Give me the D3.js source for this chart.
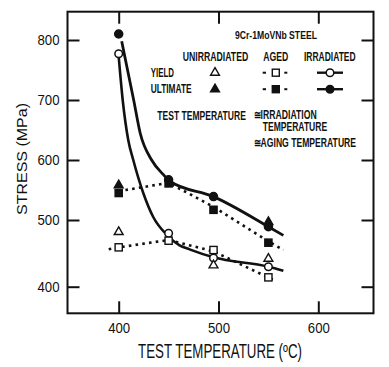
<!DOCTYPE html>
<html><head><meta charset="utf-8">
<script src="https://cdn.jsdelivr.net/npm/d3@7"></script>
<style>
html,body{margin:0;padding:0;background:#fff;}
text{font-family:"Liberation Sans",Arial,Helvetica,sans-serif;fill:#111;}
</style></head>
<body><svg id="c" width="389" height="367"></svg>
<script>
// ---- data ----
const temps = [400, 450, 495, 550];
const unirrYield = [482, null, 432, 442];
const unirrUlt   = [558, null, null, 497];
const agedYield  = [459, 469, 455, 414];
const agedUlt    = [545, 561, 517, 466];
const irrYield   = [777, 480, 443, 430];
const irrUlt     = [810, 567, 539, 490];
// fitted curves drawn through the data (temperature, MPa)
const irrUltFit   = [[403,798],[415,700],[421.5,645],[433,600],[444.5,576],[451,565],[495,539],[550,490],[565,477]];
const irrYieldFit = [[400,772],[404,700],[409.6,633],[414.6,600],[424.6,545],[434.6,505],[448,478],[461,462],[471,456],[495,444],[550,430],[565,424]];
const agedUltFit  = [[400,548],[450,562],[495,522],[550,468],[565,455]];
const agedYieldFit= [[390,456],[400,459],[450,470],[495,453],[558,408]];
const xTicks = [400, 500, 600];
const yTicks = [400, 500, 600, 700, 800];
const xTitle = "TEST TEMPERATURE (ºC)";
const yTitle = "STRESS (MPa)";
const legendTitle = "9Cr-1MoVNb STEEL";
const legendCols = ["UNIRRADIATED", "AGED", "IRRADIATED"];
const legendRows = ["YIELD", "ULTIMATE"];
const noteLines = ["TEST TEMPERATURE", "≅IRRADIATION", "TEMPERATURE", "≅AGING TEMPERATURE"];

// ---- layout ----
const svg = d3.select("#c");
const L = 67.5, R = 373.5, T = 11.7, B = 313.3;
const x = d3.scaleLinear().domain([400, 600]).range([118.7, 318.3]);
const y = d3.scaleLinear().domain([400, 500, 800]).range([286.7, 220, 40]);

function squeeze(sel, target){
  sel.each(function(){
    const t = d3.select(this);
    const w = this.getComputedTextLength();
    const ax = +t.attr("x") || 0;
    const s = target / w;
    const prev = t.attr("transform") || "";
    t.attr("transform", `${prev} translate(${ax},0) scale(${s},1) translate(${-ax},0)`);
  });
}

function styleAxis(g){
  g.select(".domain").remove();
  g.selectAll("line").attr("stroke","#111").attr("stroke-width",2);
  g.selectAll("text").style("font-family",'"Liberation Sans",Arial,sans-serif').style("font-size","15px").attr("fill","#111");
  squeeze(g.selectAll("text"), 22);
}
svg.append("g").attr("transform",`translate(${L},0)`)
  .call(d3.axisLeft(y).tickValues(yTicks).tickSize(-12).tickPadding(8)).call(styleAxis);
svg.append("g").attr("transform",`translate(${R},0)`)
  .call(d3.axisRight(y).tickValues(yTicks).tickSize(-12).tickFormat("")).call(styleAxis);
svg.append("g").attr("transform",`translate(0,${B})`)
  .call(d3.axisBottom(x).tickValues(xTicks).tickSize(-12).tickPadding(9)).call(styleAxis);
svg.append("g").attr("transform",`translate(0,${T})`)
  .call(d3.axisTop(x).tickValues(xTicks).tickSize(-12).tickFormat("")).call(styleAxis);

svg.append("rect").attr("x",L).attr("y",T).attr("width",R-L).attr("height",B-T)
  .attr("fill","none").attr("stroke","#111").attr("stroke-width",2);

// titles
const xt = svg.append("text").attr("x",220).attr("y",358).attr("text-anchor","middle")
  .style("font-size","20px").text(xTitle);
squeeze(xt,164);
const yt = svg.append("text").attr("transform","translate(27,159) rotate(-90)").attr("text-anchor","middle")
  .style("font-size","15px").text(yTitle);
squeeze(yt,112);

// ---- lines ----
const line = d3.line().x(d=>x(d[0])).y(d=>y(d[1]));
const smooth = d3.line().x(d=>x(d[0])).y(d=>y(d[1])).curve(d3.curveMonotoneX);
svg.append("path").attr("d",line(agedUltFit)).attr("fill","none").attr("stroke","#111")
  .attr("stroke-width",2.6).attr("stroke-dasharray","2.6,4.2");
svg.append("path").attr("d",line(agedYieldFit)).attr("fill","none").attr("stroke","#111")
  .attr("stroke-width",2.6).attr("stroke-dasharray","2.6,4.2");
svg.append("path").attr("d",smooth(irrUltFit)).attr("fill","none").attr("stroke","#111").attr("stroke-width",2.8);
svg.append("path").attr("d",smooth(irrYieldFit)).attr("fill","none").attr("stroke","#111").attr("stroke-width",2.6);

// ---- markers ----
const tri = d3.symbol().type(d3.symbolTriangle).size(34);
function pts(vals){ return temps.map((t,i)=>[t,vals[i]]).filter(d=>d[1]!=null); }
function circles(vals, filled){
  svg.append("g").selectAll("circle").data(pts(vals))
    .join("circle").attr("cx",d=>x(d[0])).attr("cy",d=>y(d[1])).attr("r",filled?4:3.8)
    .attr("fill",filled?"#111":"#fff").attr("stroke","#111").attr("stroke-width",1.5);
}
function squares(vals, filled){
  svg.append("g").selectAll("rect").data(pts(vals))
    .join("rect").attr("x",d=>x(d[0])-3.6).attr("y",d=>y(d[1])-3.6).attr("width",7.2).attr("height",7.2)
    .attr("fill",filled?"#111":"#fff").attr("stroke","#111").attr("stroke-width",1.4);
}
function triangles(vals, filled){
  svg.append("g").selectAll("path").data(pts(vals))
    .join("path").attr("d",tri).attr("transform",d=>`translate(${x(d[0])},${y(d[1])})`)
    .attr("fill",filled?"#111":"#fff").attr("stroke","#111").attr("stroke-width",1.4);
}
circles(irrUlt,true);
circles(irrYield,false);
squares(agedUlt,true);
squares(agedYield,false);
triangles(unirrUlt,true);
triangles(unirrYield,false);

// ---- legend ----
function txt(s,x0,y0,len,size){
  const t = svg.append("text").attr("x",x0).attr("y",y0).style("font-size",size+"px")
    .style("font-weight","bold").text(s);
  squeeze(t,len);
}
txt(legendTitle,235,39,82,11);
txt(legendCols[0],182.7,61,65.6,12);
txt(legendCols[1],263.3,61,25,12);
txt(legendCols[2],304,61,51.7,12);
txt(legendRows[0],150.7,77,23.3,12);
txt(legendRows[1],150.7,93,41,12);
txt(noteLines[0],157.3,120,88.7,12);
txt(noteLines[1],254,119.5,63.3,12);
txt(noteLines[2],262.7,131.5,64.6,12);
txt(noteLines[3],254,147,102.7,12);

const rowsY = [72.7, 89.2];
rowsY.forEach((ry,i)=>{
  const filled = i===1;
  svg.append("path").attr("d",tri).attr("transform",`translate(215,${ry})`)
    .attr("fill",filled?"#111":"#fff").attr("stroke","#111").attr("stroke-width",1.4);
  svg.append("line").attr("x1",262.7).attr("x2",266).attr("y1",ry).attr("y2",ry).attr("stroke","#111").attr("stroke-width",2);
  svg.append("line").attr("x1",284.3).attr("x2",287.3).attr("y1",ry).attr("y2",ry).attr("stroke","#111").attr("stroke-width",2);
  svg.append("rect").attr("x",272.3).attr("y",ry-3.5).attr("width",7).attr("height",7)
    .attr("fill",filled?"#111":"#fff").attr("stroke","#111").attr("stroke-width",1.4);
  svg.append("line").attr("x1",317).attr("x2",343).attr("y1",ry).attr("y2",ry).attr("stroke","#111").attr("stroke-width",2.4);
  svg.append("circle").attr("cx",330).attr("cy",ry).attr("r",3.8)
    .attr("fill",filled?"#111":"#fff").attr("stroke","#111").attr("stroke-width",1.5);
});
</script></body></html>
